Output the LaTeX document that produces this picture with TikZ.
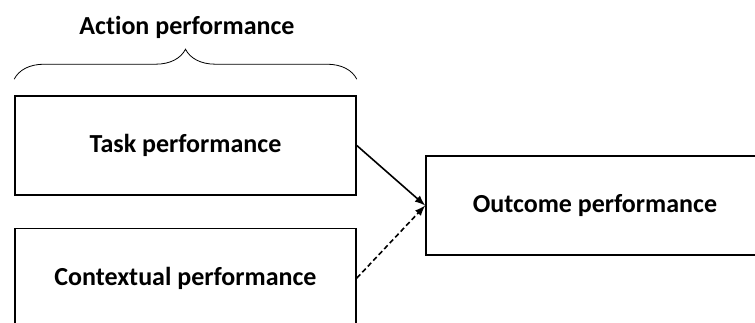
\documentclass[tikz,border=0pt]{standalone}
\usepackage{fontspec}
\setmainfont[Ligatures=NoCommon]{Carlito}
\usepackage{tikz}
\usetikzlibrary{positioning,decorations.pathreplacing}

\begin{document}
\begin{tikzpicture}[x=0.5pt, y=-0.5pt, node distance={16pt}, thick,
    main/.style = {draw, rectangle, minimum width=170.5pt, minimum height=49.5pt, font=\fontsize{13}{15}\selectfont\bfseries}]

    \useasboundingbox (0,0) rectangle (755,322);

    \node[main] (1) at (185.5,145.5) {Task performance};
    \node[main] (2) [below=of 1] {Contextual performance};
    \node[main, minimum width=169pt] (3) at (595,205.5) {Outcome performance};
    \node (4) at (187,27) {\fontsize{13}{15}\selectfont\bfseries Action performance};

    \draw[thin, decorate, decoration={brace, amplitude=15pt}] ([yshift=8pt]1.north west) -- ([yshift=8pt]1.north east);

    \draw[-latex] (1.east) -- (3.west);
    \draw[-latex, dash pattern=on 2.5pt off 1.5pt] (2.east) -- (3.west);

\end{tikzpicture}
\end{document}
